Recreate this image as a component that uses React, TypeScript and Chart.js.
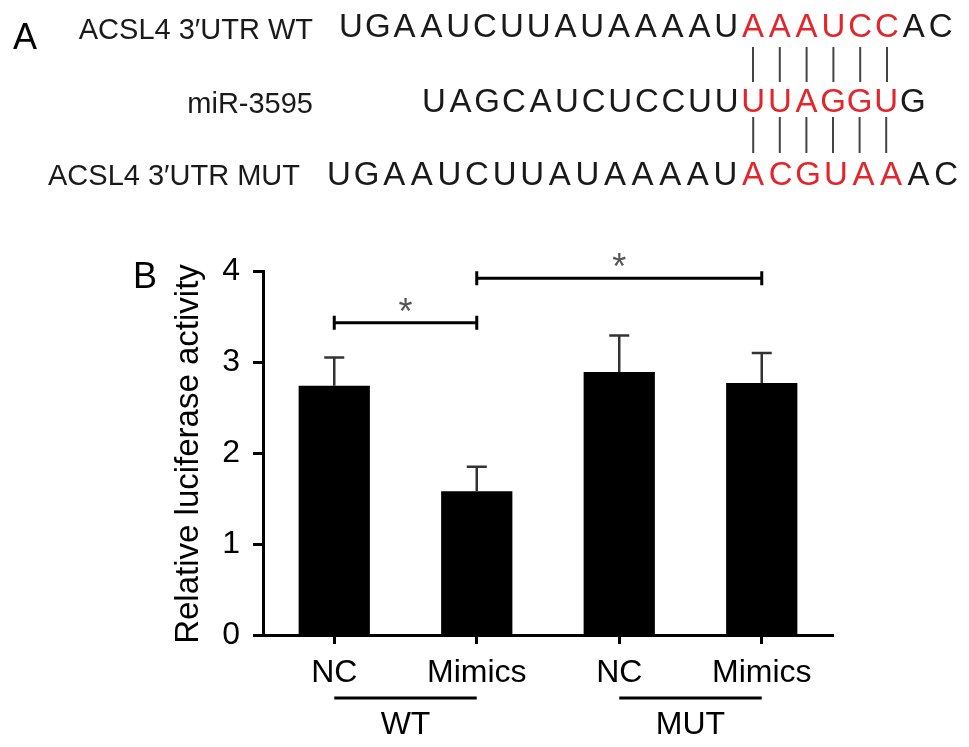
import React, { useEffect, useRef } from 'react';
import { Chart, registerables } from 'chart.js';

Chart.register(...registerables);

// ---- Panel B data ----
const categories = ['NC', 'Mimics', 'NC', 'Mimics'];
const means = [2.74, 1.58, 2.89, 2.77];
const errors = [0.31, 0.27, 0.4, 0.33];
const yTicks = [0, 1, 2, 3, 4];
const groupLabels = ['WT', 'MUT'];
const groupStart = [0, 2];
const groupEnd = [1, 3];
const sigFrom = [0, 1];
const sigTo = [1, 3];
const sigLevel = [3.43, 3.92];
const sigMark = ['*', '*'];

// ---- Panel A data ----
const seqLabels = ['ACSL4 3\u2032UTR WT', 'miR-3595', 'ACSL4 3\u2032UTR MUT'];
const seqs = ['UGAAUCUUAUAAAAUAAAUCCAC', 'UAGCAUCUCCUUUUAGGUG', 'UGAAUCUUAUAAAAUACGUAAAC'];
const redStart = [15, 12, 15];
const redLen = [6, 6, 6];

const FONT = '"Liberation Sans", Arial, Helvetica, sans-serif';

export default function App() {
  const ref = useRef<HTMLCanvasElement | null>(null);

  useEffect(() => {
    const canvas = ref.current;
    if (!canvas) return;

    const overlay = {
      id: 'overlay',
      afterDatasetsDraw(chart: any) {
        const ctx = chart.ctx;
        const ys = chart.scales.y;
        const meta = chart.getDatasetMeta(0);
        ctx.save();
        // error bars
        ctx.strokeStyle = '#333';
        ctx.lineWidth = 2.5;
        meta.data.forEach((el: any, i: number) => {
          const yTop = el.y;
          const yErr = ys.getPixelForValue(means[i] + errors[i]);
          ctx.beginPath();
          ctx.moveTo(el.x, yTop);
          ctx.lineTo(el.x, yErr);
          ctx.moveTo(el.x - 10, yErr);
          ctx.lineTo(el.x + 10, yErr);
          ctx.stroke();
        });
        ctx.restore();
      },
      afterDraw(chart: any) {
        const ctx = chart.ctx;
        const xs = chart.scales.x;
        const ys = chart.scales.y;
        ctx.save();

        // significance brackets
        for (let k = 0; k < sigFrom.length; k++) {
          const x1 = xs.getPixelForValue(sigFrom[k]);
          const x2 = xs.getPixelForValue(sigTo[k]);
          const y = ys.getPixelForValue(sigLevel[k]);
          ctx.strokeStyle = '#000';
          ctx.lineWidth = 3;
          ctx.beginPath();
          ctx.moveTo(x1, y);
          ctx.lineTo(x2, y);
          ctx.moveTo(x1, y - 7);
          ctx.lineTo(x1, y + 7);
          ctx.moveTo(x2, y - 7);
          ctx.lineTo(x2, y + 7);
          ctx.stroke();
          ctx.fillStyle = '#555';
          ctx.font = '36px ' + FONT;
          ctx.textAlign = 'center';
          ctx.textBaseline = 'alphabetic';
          ctx.fillText(sigMark[k], (x1 + x2) / 2, y + 1);
        }

        // group lines and labels
        for (let g = 0; g < groupLabels.length; g++) {
          const x1 = xs.getPixelForValue(groupStart[g]);
          const x2 = xs.getPixelForValue(groupEnd[g]);
          const y = 698;
          ctx.strokeStyle = '#000';
          ctx.lineWidth = 3;
          ctx.beginPath();
          ctx.moveTo(x1, y);
          ctx.lineTo(x2, y);
          ctx.stroke();
          ctx.fillStyle = '#000';
          ctx.font = '32px ' + FONT;
          ctx.textAlign = 'center';
          ctx.textBaseline = 'alphabetic';
          ctx.fillText(groupLabels[g], (x1 + x2) / 2, 734);
        }

        // y title
        ctx.save();
        ctx.translate(198, 454);
        ctx.rotate(-Math.PI / 2);
        ctx.fillStyle = '#000';
        ctx.font = '33px ' + FONT;
        ctx.textAlign = 'center';
        ctx.textBaseline = 'alphabetic';
        ctx.fillText('Relative luciferase activity', 0, 0);
        ctx.restore();

        // panel letters
        ctx.fillStyle = '#000';
        ctx.font = '36px ' + FONT;
        ctx.textAlign = 'left';
        ctx.textBaseline = 'alphabetic';
        ctx.fillText('A', 13, 49);
        ctx.fillText('B', 133, 288);

        // panel A
        const rowBase = [37, 112, 185];
        const labelBase = [39, 113, 185];
        const rowX0 = [351, 434, 339];
        const rowW = [26.8, 26.6, 27.6];
        const labelRight = [313, 313, 300];
        for (let r = 0; r < seqs.length; r++) {
          ctx.fillStyle = '#1a1a1a';
          ctx.font = '29px ' + FONT;
          ctx.textAlign = 'right';
          ctx.fillText(seqLabels[r], labelRight[r], labelBase[r]);
          ctx.font = '33px ' + FONT;
          ctx.textAlign = 'center';
          const s = seqs[r];
          for (let i = 0; i < s.length; i++) {
            const red = i >= redStart[r] && i < redStart[r] + redLen[r];
            ctx.fillStyle = red ? '#e3262c' : '#1a1a1a';
            ctx.fillText(s[i], rowX0[r] + i * rowW[r], rowBase[r]);
          }
        }
        // pairing lines
        ctx.strokeStyle = '#444';
        ctx.lineWidth = 2;
        ctx.beginPath();
        for (let i = 0; i < redLen[0]; i++) {
          const x = rowX0[0] + (redStart[0] + i) * rowW[0];
          ctx.moveTo(x, 47);
          ctx.lineTo(x, 82);
        }
        for (let i = 0; i < redLen[1]; i++) {
          const x = rowX0[1] + (redStart[1] + i) * rowW[1];
          ctx.moveTo(x, 117);
          ctx.lineTo(x, 153);
        }
        ctx.stroke();

        ctx.restore();
      },
    };

    const chart = new Chart(canvas, {
      type: 'bar',
      data: {
        labels: categories,
        datasets: [
          {
            data: means,
            backgroundColor: '#000',
            borderWidth: 0,
            barPercentage: 0.5,
            categoryPercentage: 1.0,
          },
        ],
      },
      options: {
        animation: false,
        responsive: false,
        events: [],
        layout: { padding: { top: 271, right: 136, left: 0, bottom: 0 } },
        plugins: { legend: { display: false }, tooltip: { enabled: false }, title: { display: false } },
        scales: {
          x: {
            grid: {
              display: true,
              offset: false,
              drawOnChartArea: false,
              drawTicks: true,
              tickLength: 9,
              tickWidth: 3,
              tickColor: '#000',
            },
            border: { display: true, color: '#000', width: 3 },
            ticks: { color: '#000', font: { size: 32, family: FONT }, padding: 10, maxRotation: 0 },
            afterFit: (s: any) => {
              s.height = 112;
            },
          },
          y: {
            min: 0,
            max: 4,
            afterBuildTicks: (s: any) => {
              s.ticks = yTicks.map((v) => ({ value: v }));
            },
            grid: {
              display: true,
              drawOnChartArea: false,
              drawTicks: true,
              tickLength: 10,
              tickWidth: 3,
              tickColor: '#000',
            },
            border: { display: true, color: '#000', width: 3 },
            ticks: { color: '#000', font: { size: 32, family: FONT }, padding: 13 },
            afterFit: (s: any) => {
              s.width = 263;
            },
          },
        },
      },
      plugins: [overlay],
    });

    return () => chart.destroy();
  }, []);

  return (
    <div style={{ position: 'fixed', left: 0, top: 0, width: 969, height: 747, background: '#fff' }}>
      <canvas ref={ref} width={969} height={747} style={{ display: 'block' }} />
    </div>
  );
}
